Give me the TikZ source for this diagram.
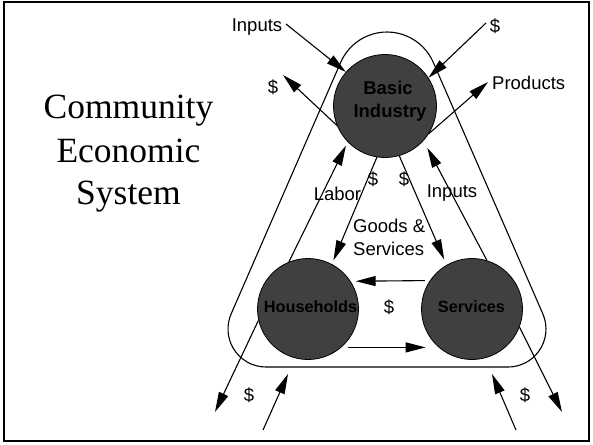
\documentclass[tikz,border=0pt]{standalone}
\usepackage{fontspec}
\setmainfont{Liberation Serif}
\setsansfont{Liberation Sans}
\usetikzlibrary{arrows.meta}
\definecolor{disk}{RGB}{64,64,64}
\begin{document}
\begin{tikzpicture}[x=1pt,y=-1pt,
  arr/.style={-{Triangle[length=20pt,width=10pt]}, line width=1.1pt},
  disknode/.style={circle, draw=black, line width=0.8pt, fill=disk, inner sep=0pt, minimum size=101pt},
  dtext/.style={font=\sffamily\bfseries\fontsize{16.3}{19}\selectfont, inner sep=0pt, anchor=base},
  lbl/.style={font=\sffamily\fontsize{18.5}{23}\selectfont, inner sep=0pt, anchor=base},
  ttl/.style={font=\rmfamily\fontsize{35.5}{43}\selectfont, inner sep=0pt, anchor=base},
]
\useasboundingbox (0,0) rectangle (593,444);
\draw[line width=2pt] (4,2) rectangle (589,441);

% title
\node[ttl] (t1) at (128.5,118) {Community};
\node[ttl] (t2) at (128.5,162) {Economic};
\node[ttl] (t3) at (128.5,204) {System};

% rounded triangle boundary
\draw[line width=1.1pt] (340.7,62.3) arc[start angle=-156.4, end angle=-23.6, radius=50.5]
  -- (542.8,313.8) arc[start angle=-23.6, end angle=90, radius=38]
  -- (266,367) arc[start angle=90, end angle=203.6, radius=38] -- cycle;

% circles
\node[disknode, minimum size=103pt] (BI) at (385,106) {};
\node[disknode] (HH) at (308,309) {};
\node[disknode] (SV) at (472,309) {};
\node[dtext, font=\sffamily\bfseries\fontsize{18.5}{23}\selectfont] (BIa) at (388,94) {Basic};
\node[dtext, font=\sffamily\bfseries\fontsize{18.5}{23}\selectfont] (BIb) at (390,117) {Industry};
\node[dtext] (HHt) at (310.5,312) {Households};
\node[dtext] (SVt) at (471.5,312) {Services};

% labels
\node[lbl] (lInputs) at (257,32) {Inputs};
\node[lbl] (lD1) at (495,33) {\$};
\node[lbl] (lD2) at (273,93) {\$};
\node[lbl, anchor=base west] (lProd) at (492,89) {Products};
\node[lbl] (lLabor) at (337.5,200) {Labor};
\node[lbl] (lD3) at (373,185) {\$};
\node[lbl] (lD4) at (404,185) {\$};
\node[lbl] (lInputs2) at (452,197) {Inputs};
\node[lbl, anchor=base west] (lGoods) at (353,232) {Goods \&};
\node[lbl, anchor=base west] (lServ) at (353,255) {Services};
\node[lbl] (lD5) at (389,313) {\$};
\node[lbl] (lD6) at (249,401) {\$};
\node[lbl] (lD7) at (525,401) {\$};

% free ends
\coordinate (inA) at (286,24);
\coordinate (inB) at (486,23);
\coordinate (outA) at (283,75);
\coordinate (outB) at (488,82);
\coordinate (outC) at (215,412);
\coordinate (outD) at (562,412);
\coordinate (inC) at (263,430);
\coordinate (inCt) at (288,374);
\coordinate (inD) at (516,430);
\coordinate (inDt) at (492,374);

% arrows
\draw[arr] (inA) -- (BI.139.6);
\draw[arr] (inB) -- (BI.33.7);
\draw[arr] (BI.202) -- (outA);
\draw[arr] (BI.328) -- (outB);
\draw[arr, shorten >=4pt] (HH.112) -- (BI.224);
\draw[arr, shorten >=4pt] (BI.261) -- (HH.62.5);
\draw[arr, shorten >=6pt] (BI.286) -- (SV.120);
\draw[arr, shorten >=8pt] (SV.73.6) -- (BI.318);
\draw[arr, shorten <=5pt, shorten >=5pt] (SV.146.7) -- (HH.33.3);
\draw[arr, shorten <=7pt, shorten >=13pt] (HH.-49.5) -- (SV.229.2);
\draw[arr] (HH.193) -- (outC);
\draw[arr] (SV.339) -- (outD);
\draw[arr] (inC) -- (inCt);
\draw[arr] (inD) -- (inDt);
\end{tikzpicture}
\end{document}
